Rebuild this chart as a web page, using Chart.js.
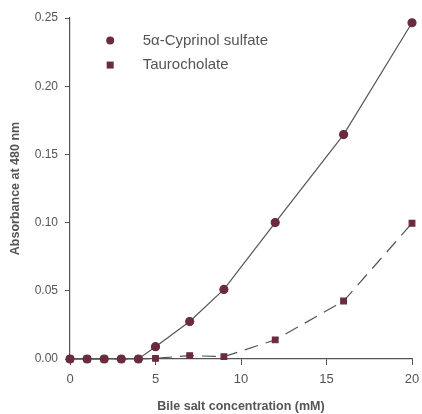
<!DOCTYPE html>
<html>
<head>
<meta charset="utf-8">
<script src="https://cdn.jsdelivr.net/npm/chart.js@4/dist/chart.umd.min.js"></script>
<style>
  html, body { margin: 0; padding: 0; background: #fff; }
  #wrap { width: 422px; height: 414px; }
</style>
</head>
<body>
<div id="wrap"><canvas id="c"></canvas></div>
<script>
// 데이터
const concentration = [0, 1, 2, 3, 4, 5, 7, 9, 12, 16, 20];
const cyprinol = [0, 0, 0, 0, 0, 0.009, 0.0275, 0.051, 0.100, 0.1645, 0.2465];
const taurocholate = [0, 0, 0, 0, 0, 0.0005, 0.0025, 0.0017, 0.014, 0.0425, 0.0995];
const seriesNames = ["5\u03b1-Cyprinol sulfate", "Taurocholate"];
const xTicks = [0, 5, 10, 15, 20];
const yTicks = [0, 0.05, 0.10, 0.15, 0.20, 0.25];

const MARK = "#6a2c3c";
const LINE = "#555";
const TEXT = "#555";
const FONT = "'Liberation Sans', Arial, sans-serif";

function pts(ys) { return concentration.map((x, i) => ({ x: x, y: ys[i] })); }

// 플롯 영역 안쪽 범례
const innerLegend = {
  id: "innerLegend",
  afterDraw(chart) {
    const ctx = chart.ctx;
    const xs = chart.scales.x, ys = chart.scales.y;
    const mx = xs.getPixelForValue(2.35), tx = xs.getPixelForValue(4.25);
    const rows = [ys.getPixelForValue(0.2335), ys.getPixelForValue(0.2155)];
    ctx.save();
    ctx.fillStyle = MARK;
    ctx.beginPath(); ctx.arc(mx, rows[0], 4, 0, Math.PI * 2); ctx.fill();
    ctx.fillRect(mx - 3.5, rows[1] - 3.5, 7, 7);
    ctx.fillStyle = TEXT;
    ctx.font = "15px " + FONT;
    ctx.textBaseline = "middle";
    ctx.fillText(seriesNames[0], tx, rows[0]);
    ctx.fillText(seriesNames[1], tx, rows[1]);
    ctx.restore();
  }
};

new Chart(document.getElementById("c").getContext("2d"), {
  type: "scatter",
  data: {
    datasets: [
      {
        label: seriesNames[1], data: pts(taurocholate), showLine: true,
        borderColor: LINE, borderWidth: 1.2, borderDash: [14, 8],
        pointStyle: "rect", pointRadius: 4, pointBackgroundColor: MARK, pointBorderColor: MARK,
        clip: false, order: 2
      },
      {
        label: seriesNames[0], data: pts(cyprinol), showLine: true,
        borderColor: LINE, borderWidth: 1.2,
        pointStyle: "circle", pointRadius: 4, pointBackgroundColor: MARK, pointBorderColor: MARK,
        clip: false, order: 1
      }
    ]
  },
  options: {
    responsive: true,
    maintainAspectRatio: false,
    animation: false,
    layout: { padding: { top: 18, right: 10, left: 0, bottom: 0 } },
    plugins: { legend: { display: false }, tooltip: { enabled: false } },
    scales: {
      x: {
        type: "linear", min: 0, max: 20,
        afterBuildTicks: s => { s.ticks = xTicks.map(v => ({ value: v })); },
        afterFit: s => { s.height = 55; s.paddingRight = 0; s.paddingLeft = 0; },
        grid: { drawOnChartArea: false, drawTicks: true, tickLength: 6, tickColor: LINE },
        border: { color: LINE, width: 1.2 },
        ticks: { color: TEXT, font: { family: FONT, size: 13 }, padding: 7 },
        title: {
          display: true, text: "Bile salt concentration (mM)", color: TEXT,
          font: { family: FONT, size: 12.5, weight: "bold" }, padding: { top: 7, bottom: 0 }
        }
      },
      y: {
        type: "linear", min: 0, max: 0.25,
        afterBuildTicks: s => { s.ticks = yTicks.map(v => ({ value: v })); },
        afterFit: s => { s.width = 70; },
        grid: { drawOnChartArea: false, drawTicks: true, tickLength: 5, tickColor: LINE },
        border: { color: LINE, width: 1.2 },
        ticks: { color: TEXT, font: { family: FONT, size: 12 }, padding: 7, callback: v => v.toFixed(2) },
        title: {
          display: true, text: "Absorbance at 480 nm", color: TEXT,
          font: { family: FONT, size: 12.5, weight: "bold" }, padding: { top: 8, bottom: 4 }
        }
      }
    }
  },
  plugins: [innerLegend]
});
</script>
</body>
</html>
